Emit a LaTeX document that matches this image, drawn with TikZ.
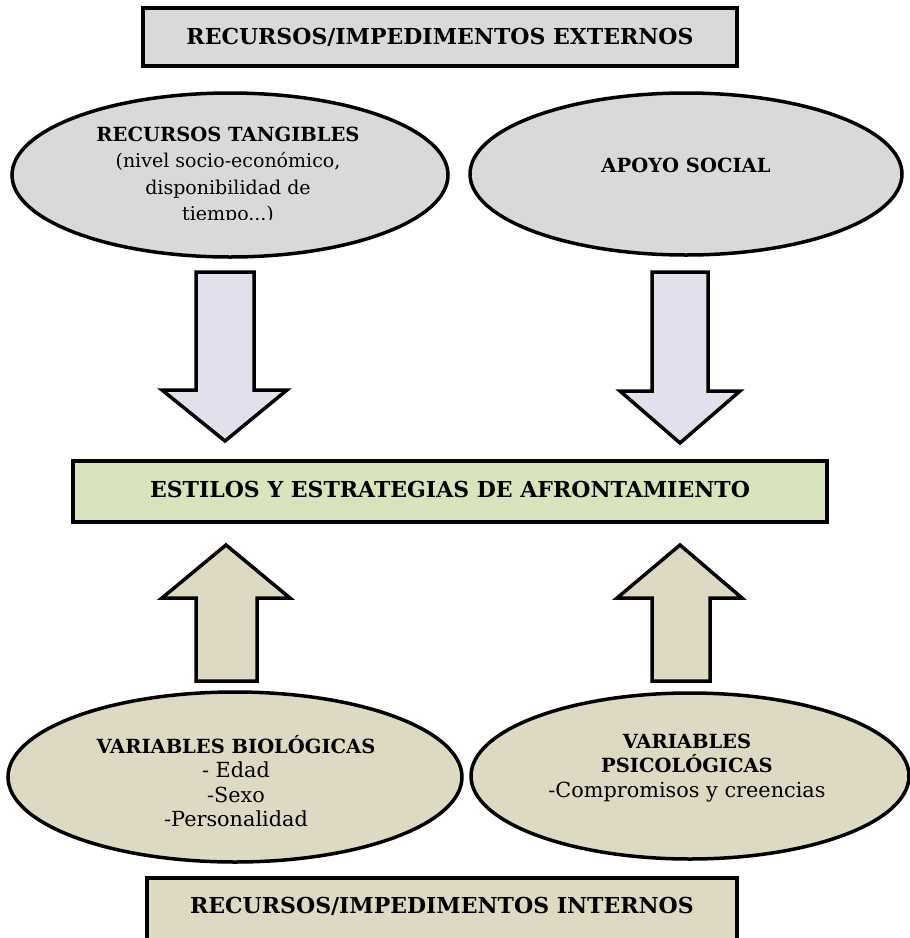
\documentclass[tikz,border=0pt]{standalone}
\usepackage{fontspec}
\setmainfont{DejaVu Serif}
\begin{document}
\begin{tikzpicture}[x=1pt,y=-1pt,
  outline/.style={draw=black,line width=3.5pt},
  blockarrow/.style={draw=black,line width=3.5pt,line join=miter,fill=arrowlilac},
  uparrow/.style={draw=black,line width=3.5pt,line join=miter,fill=khaki},
  title/.style={font=\fontsize{22}{26}\selectfont\bfseries},
  ovaltxt/.style={font=\fontsize{20.8}{24.5}\selectfont,align=center}]
\definecolor{topgray}{HTML}{D9D9D9}
\definecolor{arrowlilac}{HTML}{E4DFEC}
\definecolor{paleolive}{HTML}{D7E4BD}
\definecolor{khaki}{HTML}{DDD9C3}
\newcommand{\ovalhead}[1]{{\fontsize{19.5}{24.5}\selectfont\bfseries #1}}
\useasboundingbox (0,0) rectangle (910,938);

% external resources
\draw[outline,fill=topgray] (143,8) rectangle (737,66);
\node[title] (ext) at (440,37) {RECURSOS/IMPEDIMENTOS EXTERNOS};

\draw[outline,fill=topgray] (230,175) ellipse [x radius=218,y radius=82];
\begin{scope}
  \clip (40,105) rectangle (420,219);
  \node[align=center,font=\fontsize{19}{26.5}\selectfont] (tang) at (228,175.5)
    {\ovalhead{RECURSOS TANGIBLES}\\(nivel socio-económico,\\disponibilidad de\\tiempo...)};
\end{scope}

\draw[outline,fill=topgray] (686,174) ellipse [x radius=216,y radius=81];
\node[font=\fontsize{19.5}{24}\selectfont\bfseries] (apoyo) at (686,165) {APOYO SOCIAL};

% arrows towards coping
\draw[blockarrow] (196,272) -- (254,272) -- (254,390) -- (287,390) -- (225,441)
  -- (162,390) -- (196,390) -- cycle;
\draw[blockarrow] (652,272) -- (708,272) -- (708,391) -- (740,391) -- (680,443)
  -- (620,391) -- (652,391) -- cycle;

% coping
\draw[outline,fill=paleolive] (73,461) rectangle (827,522);
\node[title] (coping) at (450,489) {ESTILOS Y ESTRATEGIAS DE AFRONTAMIENTO};

\draw[uparrow] (196,681) -- (257,681) -- (257,598) -- (290,598) -- (226,545)
  -- (162,598) -- (196,598) -- cycle;
\draw[uparrow] (652,681) -- (710,681) -- (710,598) -- (742,598) -- (680,545)
  -- (617,598) -- (652,598) -- cycle;

% internal resources
\draw[outline,fill=khaki] (235,777) ellipse [x radius=227,y radius=85];
\node[ovaltxt] (bio) at (236,781)
  {\ovalhead{VARIABLES BIOLÓGICAS}\\- Edad\\-Sexo\\-Personalidad};

\draw[outline,fill=khaki] (690,776) ellipse [x radius=219,y radius=83];
\node[ovaltxt] (psi) at (687,768)
  {\ovalhead{VARIABLES}\\\ovalhead{PSICOLÓGICAS}\\-Compromisos y creencias};

\draw[outline,fill=khaki] (147,878) rectangle (737,950);
\node[title] (int) at (442,906) {RECURSOS/IMPEDIMENTOS INTERNOS};
\end{tikzpicture}
\end{document}
